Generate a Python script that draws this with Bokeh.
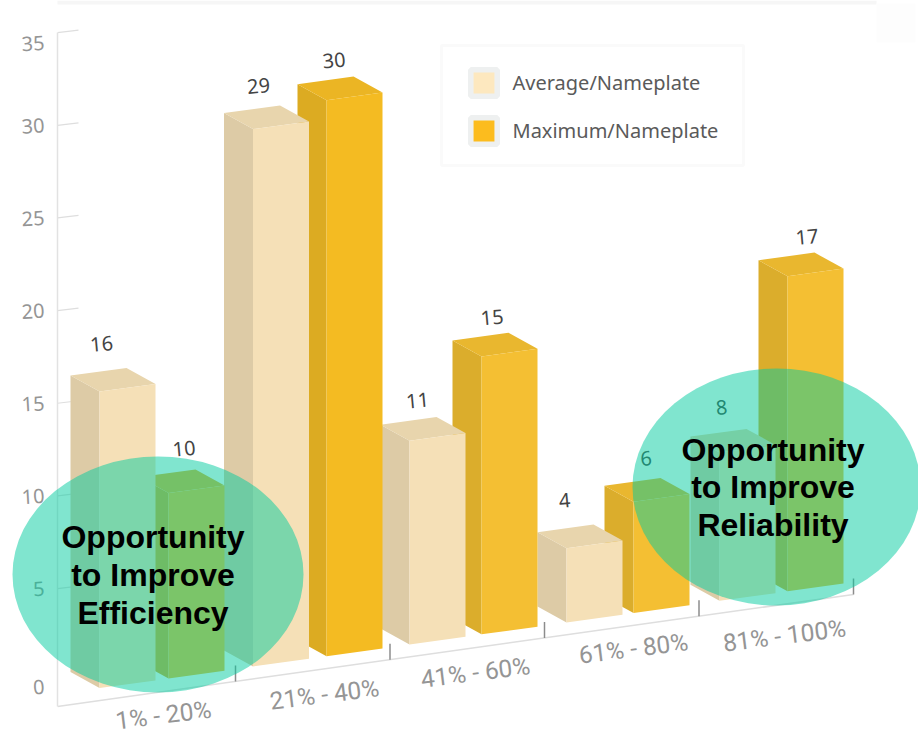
from bokeh.core.properties import value
from bokeh.embed import file_html
from bokeh.models import BoxAnnotation, ColumnDataSource, FixedTicker, Legend, LegendItem, LinearAxis, PolyAnnotation, Range1d
from bokeh.plotting import figure
from bokeh.resources import INLINE

# Chart values
categories = ["1% - 20%", "21% - 40%", "41% - 60%", "61% - 80%", "81% - 100%"]
average_values = [16, 29, 11, 4, 8]
maximum_values = [10, 30, 15, 6, 17]
series_names = ["Average/Nameplate", "Maximum/Nameplate"]
y_tick_values = [0, 5, 10, 15, 20, 25, 30, 35]

WIDTH, HEIGHT = 918, 735
PLOT_LEFT = 57

# Pixels per data unit; x is measured in category slots, y in chart value
PX_PER_SLOT = 154.5
PX_PER_VALUE = 18.53
ORIGIN_PX_X = 80.5
ORIGIN_PX_Y = 680.7


def x_of(px):
    return (px - ORIGIN_PX_X) / PX_PER_SLOT


def y_of(py):
    return (ORIGIN_PX_Y - py) / PX_PER_VALUE


p = figure(
    width=WIDTH, height=HEIGHT, output_backend="svg", toolbar_location=None,
    x_range=Range1d(x_of(PLOT_LEFT), x_of(WIDTH)),
    y_range=Range1d(y_of(HEIGHT), y_of(0)),
    x_axis_location=None, y_axis_location=None,
    min_border_left=PLOT_LEFT, min_border_right=0, min_border_top=0, min_border_bottom=0,
    background_fill_color="white", border_fill_color="white", outline_line_color=None,
)
p.grid.visible = False


def canvas_box(left, right, top, bottom, **style):
    """Rectangle placed in canvas pixels, for page furniture around the chart."""
    return BoxAnnotation(left=left, right=right, top=top, bottom=bottom,
                         left_units="canvas", right_units="canvas",
                         top_units="canvas", bottom_units="canvas", **style)


# Pale strip along the top edge of the page and the faint patch at its end
p.add_layout(PolyAnnotation(xs=[0, 876, 876, 0], ys=[0, 0, 4, 4], xs_units="canvas", ys_units="canvas",
                            fill_color="#f6f6f6", fill_alpha=1, line_color=None, level="annotation"))
p.add_layout(canvas_box(876, 915, 3, 42, fill_color="#fdfdfd", fill_alpha=1, line_color=None, level="annotation"))

# Value axis: a couple of labels sit slightly off their ticks, as the chart clamps them
label_shift = {35: -0.55, 0: -0.3}
tick_spots = [t + label_shift.get(t, 0) for t in y_tick_values]
y_axis = LinearAxis(
    ticker=FixedTicker(ticks=tick_spots),
    major_label_overrides={s: str(t) for s, t in zip(tick_spots, y_tick_values)},
    bounds=(y_of(706), 35),
    axis_line_color="#e2e2e2", axis_line_width=1.5,
    major_tick_line_color=None, minor_tick_line_color=None,
    major_label_text_color="#959595", major_label_text_font="Noto Sans",
    major_label_text_font_size="20px", major_label_standoff=7,
    major_label_orientation=0.06,
)
p.add_layout(y_axis, "left")

# Skewed wall ticks next to the value axis
wall_values = [t for t in y_tick_values if t > 0]
wall_rise = 2.5 / PX_PER_VALUE
p.segment(x0=[x_of(PLOT_LEFT)] * len(wall_values), y0=wall_values,
          x1=[x_of(78)] * len(wall_values), y1=[v + wall_rise for v in wall_values],
          line_color="#dedede", line_width=1.2)

# Slanted category axis along the floor
FLOOR_SLOPE = 0.1407
AXIS_CORNER_PY = 706


def axis_py(px):
    return AXIS_CORNER_PY - FLOOR_SLOPE * (px - PLOT_LEFT)


p.line(x=[x_of(PLOT_LEFT), x_of(853)], y=[y_of(axis_py(PLOT_LEFT)), y_of(axis_py(853))],
       line_color="#dedede", line_width=1.5)
tick_slots = list(range(1, len(categories) + 1))
p.segment(x0=tick_slots, y0=[y_of(axis_py(ORIGIN_PX_X + s * PX_PER_SLOT)) for s in tick_slots],
          x1=tick_slots, y1=[y_of(axis_py(ORIGIN_PX_X + s * PX_PER_SLOT) - 16) for s in tick_slots],
          line_color="#8c8c8c", line_width=1.5)

# Box geometry shared by all bars
BAR_STEP = 155
BAR_W = 56
DEPTH_X = 29
DEPTH_Y = 16
FACE_RISE = 7.7
FLOOR_GAP = 12.5
AVG_START = 99
MAX_START = 169.5
avg_slot_nudge = [0, -1.5, 0, 2, 0]
max_slot_nudge = [-1.5, 1.5, 1.5, -1.5, -2.5]

average_shades = ("#ddcba6", "#e8d5ad", "#f5e0b7")
maximum_shades = ("#dbad2c", "#e9b72f", "#f4bf33")
maximum_shades_strong = ("#dcab22", "#ebb524", "#f4bb22")


def box_faces(left_px, val, shades):
    """Side, top and front polygons of one box, in data units."""
    x0 = x_of(left_px)
    x1 = x_of(left_px + BAR_W)
    xb = x_of(left_px - DEPTH_X)
    xc = x_of(left_px + BAR_W - DEPTH_X)
    base = y_of(axis_py(left_px) - FLOOR_GAP)
    rise = FACE_RISE / PX_PER_VALUE
    depth = DEPTH_Y / PX_PER_VALUE
    top = base + val
    return [
        ([x0, xb, xb, x0], [base, base + depth, top + depth, top], shades[0]),
        ([x0, xb, xc, x1], [top, top + depth, top + depth + rise, top + rise], shades[1]),
        ([x0, x1, x1, x0], [base, base + rise, top + rise, top], shades[2]),
    ]


# Painted from the far right towards the viewer on the left
xs, ys, colors = [], [], []
for i in reversed(range(len(categories))):
    m_shades = maximum_shades_strong if i == 1 else maximum_shades
    for left, val, shades in ((MAX_START + i * BAR_STEP + max_slot_nudge[i], maximum_values[i], m_shades),
                              (AVG_START + i * BAR_STEP + avg_slot_nudge[i], average_values[i], average_shades)):
        for fx, fy, c in box_faces(left, val, shades):
            xs.append(fx)
            ys.append(fy)
            colors.append(c)
p.patches(xs="xs", ys="ys", fill_color="colors", line_color=None,
          source=ColumnDataSource(dict(xs=xs, ys=ys, colors=colors)))

# Value labels over each box: offsets in pixels from the box's top front-left corner
avg_label_offset = [(2, 47.5), (4, 43), (8, 40), (0, 48), (2, 45)]
max_label_offset = [(14, 44), (9, 40), (12, 39), (11, 43), (17, 39)]
lx, ly, lt = [], [], []
for i in range(len(categories)):
    for start, val, off in ((AVG_START, average_values[i], avg_label_offset[i]),
                            (MAX_START, maximum_values[i], max_label_offset[i])):
        left = start + i * BAR_STEP
        lx.append(x_of(left + off[0]))
        ly.append(y_of(axis_py(left) - FLOOR_GAP) + val + off[1] / PX_PER_VALUE)
        lt.append(str(val))
p.text(x="x", y="y", text="t", source=ColumnDataSource(dict(x=lx, y=ly, t=lt)),
       text_font=value("Noto Sans"), text_font_size="20px", text_color="#444444",
       text_align="center", text_baseline="middle", angle=0.09)

# Category labels follow the slope of the floor
cat_px = [163, 324, 475, 633, 784]
cat_py = [714.5, 694, 672, 648, 635]
p.text(x=[x_of(v) for v in cat_px], y=[y_of(v) for v in cat_py], text=categories,
       text_font=value("Roboto"), text_font_size="24.5px", text_color="#959595",
       text_align="center", text_baseline="middle", angle=0.125)

# Highlight ellipses and their captions sit over everything else
ELLIPSE_COLOR = "#01cb9f"
p.ellipse(x=[x_of(157.5), x_of(776)], y=[y_of(574), y_of(486.5)],
          width=[291, 288], height=[236, 237], width_units="screen", height_units="screen",
          fill_color=ELLIPSE_COLOR, fill_alpha=0.5, line_color=None, level="annotation")

caption_lines = ["Opportunity", "to Improve", "Efficiency", "Opportunity", "to Improve", "Reliability"]
caption_px = [152.5, 152.5, 152.5, 772.5, 772.5, 772.5]
caption_py = [536, 574, 612, 449.5, 486.5, 524.5]
p.text(x=[x_of(v) for v in caption_px], y=[y_of(v) for v in caption_py], text=caption_lines,
       text_font=value("Liberation Sans"), text_font_style="bold", text_font_size="32px",
       text_color="#000000", text_align="center", text_baseline="middle", level="overlay")

# Legend frame, drawn apart from the entries so its size can be set exactly
p.add_layout(canvas_box(441, 743, 45, 165, fill_color="white", fill_alpha=1,
                        line_color="#edefef", line_width=3, level="annotation"))

# Legend keys come from zero-area quads parked outside the ranges, keeping the grey swatch frame
swatch_a = p.quad(left=[-9], right=[-9], top=[-9], bottom=[-9], fill_color="#fde8bf",
                  line_color="#eef0f0", line_width=5.5)
swatch_b = p.quad(left=[-9], right=[-9], top=[-9], bottom=[-9], fill_color="#fcbc1e",
                  line_color="#eef0f0", line_width=5.5)
# With no border drawn the legend ignores its padding, so the location is the first key's corner
legend = Legend(
    items=[LegendItem(label=value(series_names[0]), renderers=[swatch_a]),
           LegendItem(label=value(series_names[1]), renderers=[swatch_b])],
    location=(466.5 - PLOT_LEFT, HEIGHT - 146.5),
    glyph_width=33, glyph_height=33, label_height=33, spacing=15, padding=0, margin=0,
    label_standoff=13,
    label_text_font="Noto Sans", label_text_font_size="20px", label_text_color="#5a5a5a",
    border_line_color=None, background_fill_alpha=0,
)
p.add_layout(legend)

open("out.html", "w").write(file_html(p, INLINE))
